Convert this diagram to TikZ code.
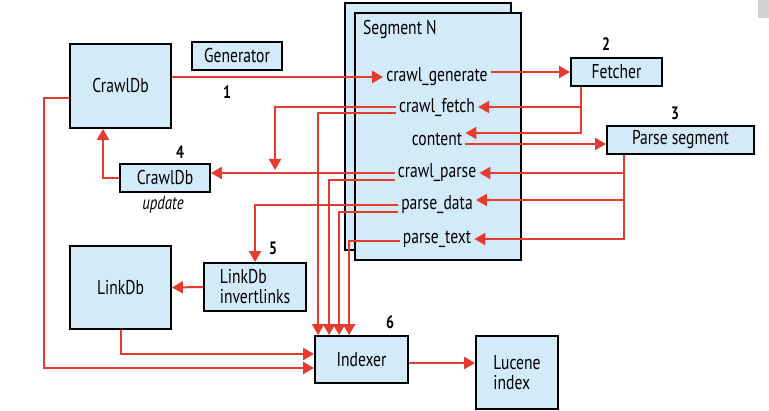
\documentclass[tikz,border=0pt]{standalone}
\usepackage{fontspec}
\setmainfont{PT Sans}[FakeStretch=0.78]
\usetikzlibrary{arrows.meta,calc}
\definecolor{boxfill}{HTML}{D3EAF8}
\definecolor{arrred}{HTML}{E53A2E}
\begin{document}
\begin{tikzpicture}[x=1pt,y=-1pt,
  box/.style={draw=black,line width=1.8pt,fill=boxfill,inner sep=0pt,font=\fontsize{20}{20}\selectfont,align=center},
  lbl/.style={inner sep=3pt,font=\fontsize{20}{20}\selectfont},
  num/.style={inner sep=0pt,font=\fontsize{18}{18}\selectfont\bfseries},
  arr/.style={draw=arrred,line width=2pt,-{Triangle[length=11pt,width=12pt]}},
  ln/.style={draw=arrred,line width=2pt}]
\useasboundingbox (0,0) rectangle (769,411);
\fill[gray!35] (758,0) rectangle (769,18);
% boxes
\node[box,minimum width=101pt,minimum height=84pt] (crawldb) at (120.5,86) {CrawlDb};
\node[box,minimum width=90pt,minimum height=28pt] (generator) at (237,56) {Generator};
\node[box,minimum width=166pt,minimum height=247pt] (segback) at (428,126.5) {};
\node[box,minimum width=166pt,minimum height=247pt] (segfront) at (438,136.5) {};
\node[lbl,anchor=west,inner sep=0pt] (segn) at (363,30) {Segment N};
\node[lbl] (cgen) at (437,77) {crawl\_generate};
\node[lbl] (cfetch) at (437,107) {crawl\_fetch};
\node[lbl] (content) at (437,139) {content};
\node[lbl] (cparse) at (437,173) {crawl\_parse};
\node[lbl] (pdata) at (437,205) {parse\_data};
\node[lbl] (ptext) at (437,239) {parse\_text};
\node[box,minimum width=91pt,minimum height=28pt] (fetcher) at (616.5,72) {Fetcher};
\node[box,minimum width=147pt,minimum height=28pt] (parse) at (680.5,140) {Parse segment};
\node[box,minimum width=90pt,minimum height=28pt] (cdu) at (165,178) {CrawlDb};
\node[inner sep=0pt,font=\fontsize{19}{19}\selectfont\itshape] (upd) at (163,205) {update};
\node[box,minimum width=101pt,minimum height=83pt] (linkdb) at (120.5,287.5) {LinkDb};
\node[box,minimum width=102pt,minimum height=48pt,align=left] (lil) at (255,287) {LinkDb\\invertlinks};
\node[box,minimum width=93pt,minimum height=47pt] (indexer) at (361.5,359.5) {Indexer};
\node[box,minimum width=82pt,minimum height=73pt,align=left] (lucene) at (517,372.5) {Lucene\\index};
% numbers
\node[num] (n1) at (227,92) {1};
\node[num] (n2) at (606,44) {2};
\node[num] (n3) at (675,113) {3};
\node[num] (n4) at (180,152) {4};
\node[num] (n5) at (273,248) {5};
\node[num] (n6) at (390,322) {6};
% connectors
\draw[arr] (cgen.west -| crawldb.east) -- (cgen.west);
\draw[arr] (fetcher.west -| cgen.east) -- (fetcher.west);
\coordinate (fb) at ([xshift=-35.5]fetcher.south);
\draw[arr] (fb) |- (cfetch.east);
\draw[arr] (fb) |- ([yshift=6]content.east);
\draw[arr] ([yshift=-5]content.east) -- ([yshift=-5]content.east -| parse.west);
\coordinate (pb) at ([xshift=18]parse.south west);
\coordinate (pde) at ([yshift=5]pdata.east);
\draw[arr] (pb) |- (ptext.east);
\draw[arr] (pb |- cparse.east) -- (cparse.east);
\draw[arr] (pb |- pde) -- (pde);
% left side
\coordinate (drop) at (275,170);
\draw[arr] (cfetch.west) -| (drop);
\draw[arr] ([yshift=-6]cfetch.west) -| ([xshift=4]indexer.north west);
\draw[arr] (cparse.west) -- (cparse.west -| cdu.east);
\draw[arr] ([yshift=-7]cparse.west) -| ([xshift=15]indexer.north west);
\draw[arr] (pdata.west) -| (lil.north);
\draw[arr] ([yshift=-7]pdata.west) -| ([xshift=25]indexer.north west);
\draw[arr] ([yshift=-2]ptext.west) -| ([xshift=35]indexer.north west);
\draw[arr] (cdu.west) -| ([xshift=-17.5]crawldb.south);
\draw[arr] ([yshift=-12]crawldb.west) -- ++(-25,0) |- ([yshift=-8.5]indexer.west);
\draw[arr] (linkdb.south) |- ([yshift=5.5]indexer.west);
\draw[arr] (lil.west) -- (linkdb.east);
\draw[arr] ([yshift=-3.5]indexer.east) -- ([yshift=-3.5]indexer.east -| lucene.west);
\end{tikzpicture}
\end{document}
